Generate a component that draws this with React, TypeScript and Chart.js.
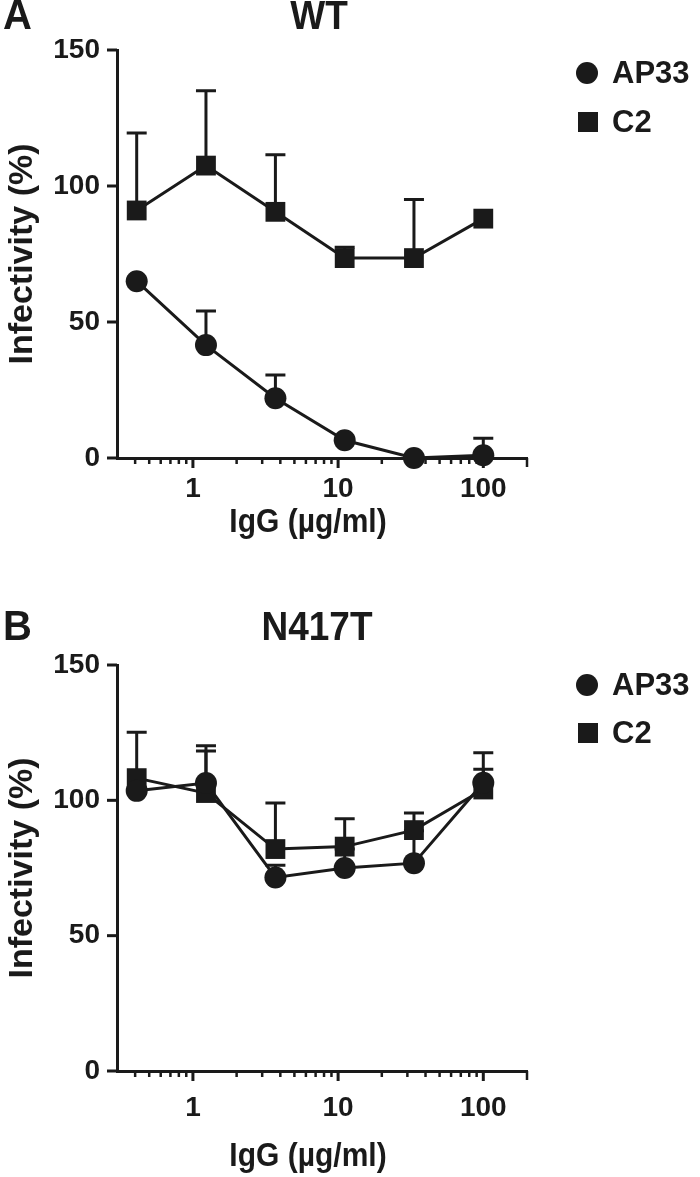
import React, { useEffect, useRef } from 'react';
import { Chart, registerables } from 'chart.js';

Chart.register(...registerables);

// ---- data ----
const doses = [0.41, 1.23, 3.7, 11.1, 33.3, 100];

const wtAP33 = [65, 41.5, 22, 6.5, 0, 1];
const wtAP33Err = [0, 12.5, 8.5, 0, 0, 6.3];
const wtC2 = [91, 107.5, 90.5, 73.5, 73.5, 88];
const wtC2Err = [28.5, 27.5, 21, 4, 21.5, 0];

const mutAP33 = [103.5, 106.4, 71.5, 75, 76.8, 106.5];
const mutAP33Err = [0, 13.8, 4.5, 7, 12, 5];
const mutC2 = [108.2, 102.7, 82, 82.9, 89, 104];
const mutC2Err = [17, 15.5, 17, 10.3, 6.3, 13.6];

const seriesNames = ['AP33', 'C2'];
const yTicks = [0, 50, 100, 150];
const xMajorTicks = [1, 10, 100];
const xTickLabels = ['1', '10', '100'];
const xMinorTicks = [0.4, 0.5, 0.6, 0.7, 0.8, 0.9, 2, 3, 4, 5, 6, 7, 8, 9, 20, 30, 40, 50, 60, 70, 80, 90, 200];
const xTitle = 'IgG (µg/ml)';
const yTitle = 'Infectivity (%)';

const INK = '#1a1a1a';
const FONT = '"Liberation Sans", Arial, Helvetica, sans-serif';

type Panel = {
  letter: string;
  title: string;
  ap33: number[];
  ap33Err: number[];
  c2: number[];
  c2Err: number[];
  height: number;
  top: number;
  layoutBottom: number;
  xHeight: number;
  xTickPad: number;
  letterY: number;
  titleY: number;
  titleX: number;
  xTitleY: number;
  legendY1: number;
  legendY2: number;
};

const panels: Panel[] = [
  {
    letter: 'A', title: 'WT',
    ap33: wtAP33, ap33Err: wtAP33Err, c2: wtC2, c2Err: wtC2Err,
    height: 588, top: 50, layoutBottom: 44, xHeight: 86, xTickPad: 14,
    letterY: 17, titleY: 18, titleX: 319, xTitleY: 523, legendY1: 73, legendY2: 122,
  },
  {
    letter: 'B', title: 'N417T',
    ap33: mutAP33, ap33Err: mutAP33Err, c2: mutC2, c2Err: mutC2Err,
    height: 589, top: 77, layoutBottom: 0, xHeight: 106, xTickPad: 20,
    letterY: 40, titleY: 41, titleX: 317, xTitleY: 569, legendY1: 97, legendY2: 145,
  },
];

function stretchedText(ctx: CanvasRenderingContext2D, text: string, x: number, y: number, size: number, align: CanvasTextAlign, sy: number) {
  ctx.save();
  ctx.translate(x, y);
  ctx.scale(1, sy);
  ctx.font = `bold ${size}px ${FONT}`;
  ctx.textAlign = align;
  ctx.textBaseline = 'middle';
  ctx.fillText(text, 0, 0);
  ctx.restore();
}

function makePlugin(p: Panel) {
  return {
    id: 'custom' + p.letter,
    beforeDatasetsDraw(chart: any) {
      const ctx = chart.ctx;
      const xs = chart.scales.x;
      const ys = chart.scales.y;
      const area = chart.chartArea;
      ctx.save();
      ctx.strokeStyle = INK;
      ctx.lineWidth = 3;
      ctx.lineCap = 'butt';
      // y tick marks
      yTicks.forEach((v) => {
        const y = ys.getPixelForValue(v);
        ctx.beginPath();
        ctx.moveTo(area.left - 10, y);
        ctx.lineTo(area.left, y);
        ctx.stroke();
      });
      // x tick marks
      const b = area.bottom;
      xMajorTicks.forEach((v) => {
        const x = xs.getPixelForValue(v);
        ctx.beginPath();
        ctx.moveTo(x, b);
        ctx.lineTo(x, b + 10);
        ctx.stroke();
      });
      ctx.lineWidth = 2.5;
      xMinorTicks.forEach((v) => {
        const x = xs.getPixelForValue(v);
        ctx.beginPath();
        ctx.moveTo(x, b);
        ctx.lineTo(x, b + (v === 200 ? 9 : 6));
        ctx.stroke();
      });
      // error bars (upper only)
      ctx.lineWidth = 3;
      chart.data.datasets.forEach((ds: any, di: number) => {
        const meta = chart.getDatasetMeta(di);
        meta.data.forEach((el: any, i: number) => {
          const e = ds.err[i];
          if (!e) return;
          const yTop = ys.getPixelForValue(ds.data[i].y + e);
          ctx.beginPath();
          ctx.moveTo(el.x, el.y);
          ctx.lineTo(el.x, yTop);
          ctx.moveTo(el.x - 10, yTop);
          ctx.lineTo(el.x + 10, yTop);
          ctx.stroke();
        });
      });
      ctx.restore();
    },
    afterDraw(chart: any) {
      const ctx = chart.ctx;
      ctx.save();
      ctx.fillStyle = INK;
      stretchedText(ctx, p.letter, 3, p.letterY, 40, 'left', 1.05);
      stretchedText(ctx, p.title, p.titleX, p.titleY, 37, 'center', 1.12);
      stretchedText(ctx, xTitle, 308, p.xTitleY, 30, 'center', 1.12);
      // legend
      ctx.beginPath();
      ctx.arc(587, p.legendY1, 11, 0, Math.PI * 2);
      ctx.fill();
      ctx.fillRect(578, p.legendY2 - 10, 20, 20);
      stretchedText(ctx, seriesNames[0], 612, p.legendY1 + 1, 31, 'left', 1.03);
      stretchedText(ctx, seriesNames[1], 612, p.legendY2 + 1, 31, 'left', 1.03);
      ctx.restore();
    },
  };
}

function PanelChart({ p }: { p: Panel }) {
  const ref = useRef<HTMLCanvasElement | null>(null);
  useEffect(() => {
    if (!ref.current) return;
    const mk = (vals: number[], errs: number[], name: string, style: string, r: number) => ({
      label: name,
      data: doses.map((x, i) => ({ x, y: vals[i] })),
      err: errs,
      borderColor: INK,
      backgroundColor: INK,
      borderWidth: 3,
      pointStyle: style,
      pointRadius: r,
      pointBorderWidth: 0,
      pointBackgroundColor: INK,
      tension: 0,
      fill: false,
      clip: false,
    });
    const chart = new Chart(ref.current, {
      type: 'line',
      data: {
        datasets: [
          mk(p.ap33, p.ap33Err, seriesNames[0], 'circle', 11) as any,
          mk(p.c2, p.c2Err, seriesNames[1], 'rect', 14) as any,
        ],
      },
      options: {
        responsive: false,
        animation: false,
        devicePixelRatio: 1,
        layout: { padding: { top: p.top, left: 0, right: 173, bottom: p.layoutBottom } },
        plugins: { legend: { display: false }, tooltip: { enabled: false }, title: { display: false } },
        events: [],
        scales: {
          x: {
            type: 'logarithmic',
            min: 0.3,
            max: 200,
            afterBuildTicks: (s: any) => {
              s.ticks = xMajorTicks.map((v) => ({ value: v }));
            },
            afterFit: (s: any) => {
              s.height = p.xHeight;
            },
            ticks: {
              autoSkip: false,
              maxRotation: 0,
              padding: p.xTickPad,
              color: INK,
              font: { family: FONT, size: 28, weight: 'bold' },
              callback: (_v: any, i: number) => xTickLabels[i],
            },
            grid: { display: false, drawTicks: false, tickLength: 0 },
            border: { display: true, color: INK, width: 3 },
            title: { display: false },
          },
          y: {
            type: 'linear',
            min: 0,
            max: 150,
            afterBuildTicks: (s: any) => {
              s.ticks = yTicks.map((v) => ({ value: v }));
            },
            afterFit: (s: any) => {
              s.width = 117;
            },
            ticks: {
              padding: 17,
              color: INK,
              font: { family: FONT, size: 28, weight: 'bold' },
            },
            grid: { display: false, drawTicks: false, tickLength: 0 },
            border: { display: true, color: INK, width: 3 },
            title: {
              display: true,
              text: yTitle,
              color: INK,
              font: { family: FONT, size: 34, weight: 'bold' },
              padding: { top: 2, bottom: 0 },
            },
          },
        },
      } as any,
      plugins: [makePlugin(p)],
    });
    return () => chart.destroy();
  }, [p]);
  return <canvas ref={ref} width={700} height={p.height} style={{ display: 'block', width: 700, height: p.height }} />;
}

export default function App() {
  return (
    <div style={{ position: 'absolute', left: 0, top: 0, width: 700, background: '#fff' }}>
      {panels.map((p) => (
        <PanelChart key={p.letter} p={p} />
      ))}
    </div>
  );
}
